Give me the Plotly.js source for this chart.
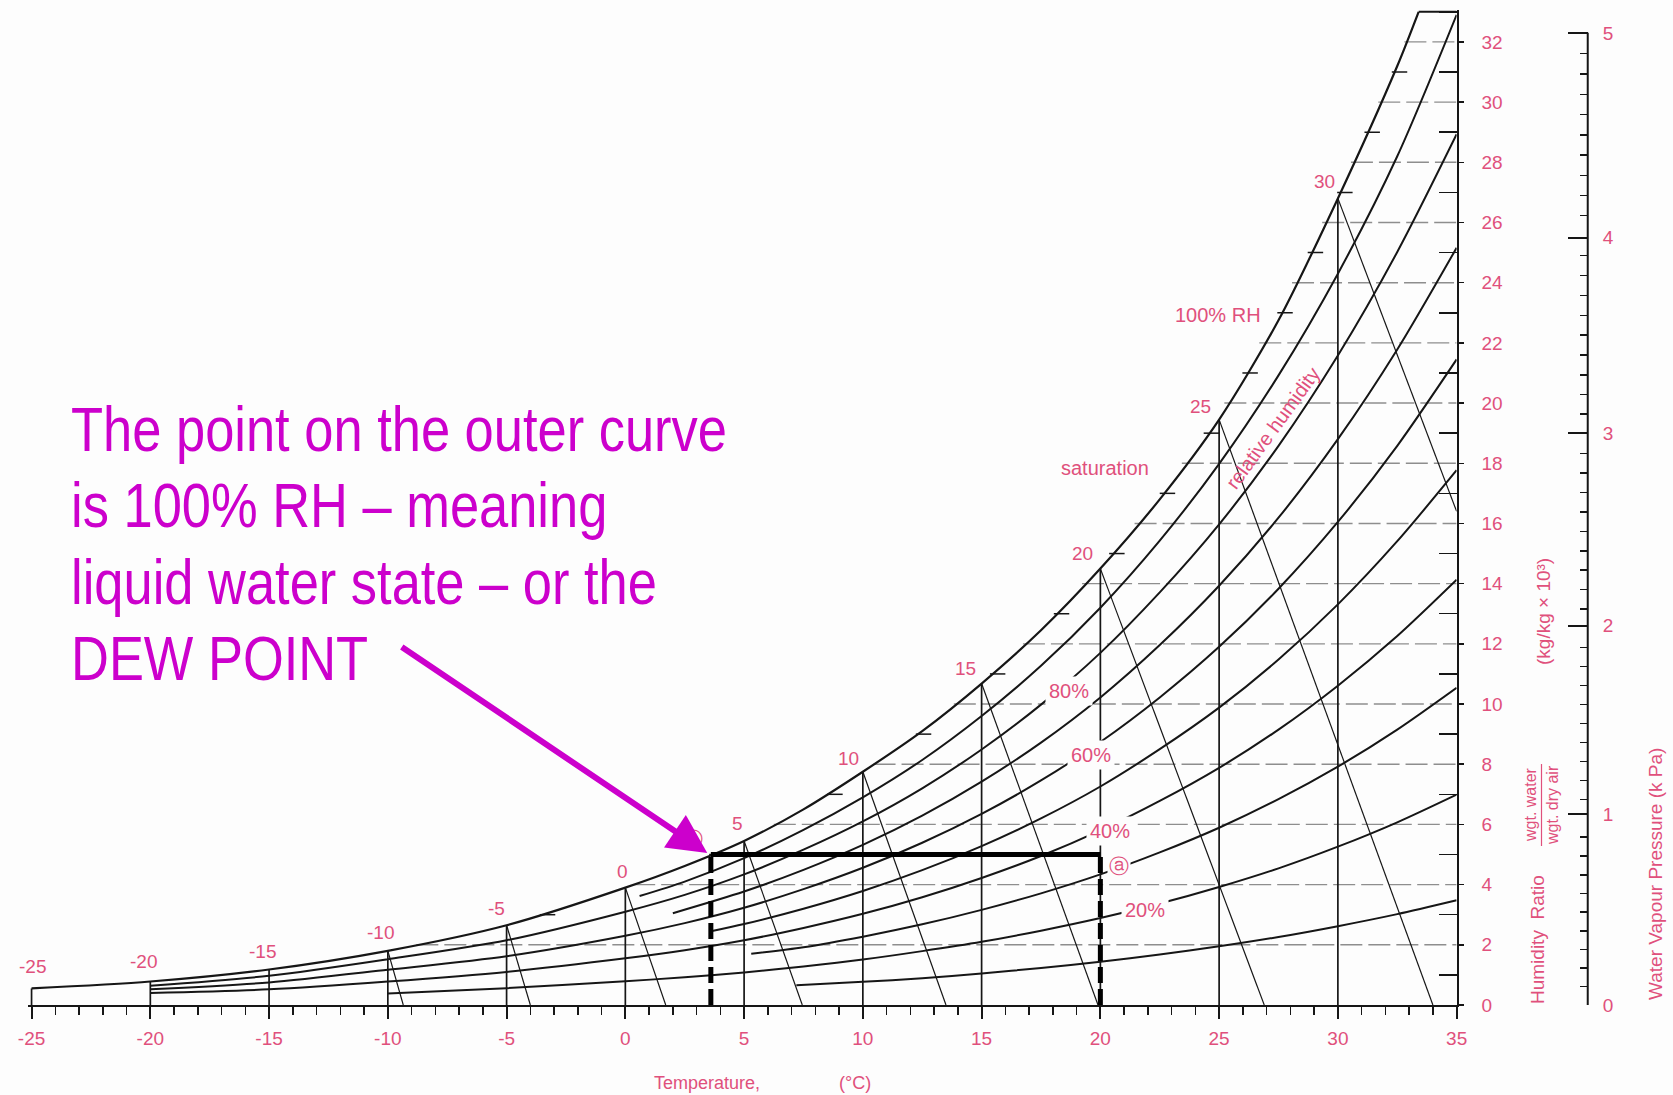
<!DOCTYPE html>
<html><head><meta charset="utf-8">
<script src="https://cdn.plot.ly/plotly-3.0.1.min.js"></script>
<style>html,body{margin:0;padding:0;background:#fdfdfd}#chart{width:1673px;height:1095px}</style>
</head><body><div id="chart"></div>
<script>
// ---------- data ----------
const tempTicks = [-25,-20,-15,-10,-5,0,5,10,15,20,25,30,35];
const ratioTicks = [0,2,4,6,8,10,12,14,16,18,20,22,24,26,28,30,32];
const vpLabels = ['0','1','2','3','4','5'];
const vpTickW = [0,6.35,12.6,19.0,25.5,32.3];

// saturation (100% RH) curve: temperature (°C) / humidity ratio (g/kg)
const satT = [-25,-20,-15,-10,-5,0,2.5,5,7.5,10,12.5,15,17.5,20,22.5,25,27.5,30,32.5,33.4];
const satW = [0.55,0.78,1.18,1.8,2.65,3.9,4.62,5.45,6.5,7.75,9.1,10.68,12.45,14.5,16.8,19.45,22.75,26.8,31.2,33.0];

// relative humidity curves
const rh90T = [0.6,2.5,5,7.5,10,12.5,15,17.5,20,22.5,25,27.5,30,32.5,35];
const rh90W = [3.62,4.1,4.88,5.82,6.9,8.14,9.6,11.27,13.2,15.43,17.98,20.92,24.3,28.2,32.9];
const rh80T = [-20,-15,-10,-5,0,2.5,5,7.5,10,12.5,15,17.5,20,22.5,25,27.5,30,32.5,35];
const rh80W = [0.64,0.97,1.52,2.15,3.1,3.66,4.34,5.16,6.1,7.2,8.49,9.98,11.7,13.71,15.97,18.58,21.58,25.02,28.93];
const rh70T = [2,5,7.5,10,12.5,15,17.5,20,22.5,25,27.5,30,32.5,35];
const rh70W = [3.05,3.77,4.49,5.32,6.29,7.42,8.72,10.22,11.96,13.93,16.19,18.8,21.78,25.16];
const rh60T = [-20,-15,-10,-5,0,2.5,5,7.5,10,12.5,15,17.5,20,22.5,25,27.5,30,32.5,35];
const rh60W = [0.52,0.75,1.17,1.62,2.3,2.72,3.23,3.85,4.56,5.39,6.35,7.46,8.74,10.22,11.9,13.83,16.05,18.58,21.45];
const rh50T = [3.6,5,7.5,10,12.5,15,17.5,20,22.5,25,27.5,30,32.5,35];
const rh50W = [2.45,2.69,3.2,3.79,4.48,5.28,6.2,7.26,8.5,9.88,11.48,13.31,15.41,17.77];
const rh40T = [-20,-15,-10,-5,0,2.5,5,7.5,10,12.5,15,17.5,20,22.5,25,27.5,30,32.5,35];
const rh40W = [0.4,0.52,0.78,1.1,1.55,1.82,2.15,2.56,3.03,3.58,4.22,4.95,5.8,6.78,7.88,9.15,10.61,12.26,14.13];
const rh30T = [5.3,7.5,10,12.5,15,17.5,20,22.5,25,27.5,30,32.5,35];
const rh30W = [1.7,1.92,2.27,2.68,3.16,3.71,4.34,5.07,5.89,6.84,7.92,9.15,10.54];
const rh20T = [-10,-5,0,2.5,5,7.5,10,12.5,15,17.5,20,22.5,25,27.5,30,32.5,35];
const rh20W = [0.38,0.56,0.79,0.92,1.08,1.28,1.51,1.79,2.1,2.47,2.89,3.37,3.92,4.54,5.26,6.07,6.99];
const rh10T = [7.2,10,12.5,15,17.5,20,22.5,25,27.5,30,32.5,35];
const rh10W = [0.66,0.77,0.89,1.05,1.23,1.44,1.68,1.95,2.26,2.62,3.02,3.48];

// wet-bulb (sloping) lines: start on saturation at wbStartT, end at (wbEndT, wbEndW)
const wbStartT = [-10,-5,0,5,10,15,20,25,30];
const wbEndT = [-9.35,-4.0,1.7,7.45,13.5,19.9,26.9,34.0,35];
const wbEndW = [0,0,0,0,0,0,0,0,16.4];

// dry-bulb verticals
const dryBulbT = [-25,-20,-15,-10,-5,0,5,10,15,20,25,30];

// horizontal humidity-ratio lines (even) and short ticks (odd), starting on the saturation curve
const gridW = [2,4,6,8,10,12,14,16,18,20,22,24,26,28,30,32];
const gridDewT = [-8.8,0.33,6.25,10.45,13.83,16.74,19.23,21.44,23.43,25.22,26.69,28.07,29.34,30.55,31.7,32.8];
const oddW = [3,5,7,9,11,13,15,17,19,21,23,25,27,29,31];
const oddDewT = [-3.6,3.53,8.5,12.23,15.35,18.04,20.37,22.5,24.35,25.98,27.45,28.73,29.97,31.12,32.27];

// highlighted example: state (a) at 20 °C and its dew point
const dewPointT = 3.6;
const stateT = 20;
const stateW = 5.0;

// ---------- styling ----------
const PINK = '#e0507c';
const MAG = '#cc00cc';
const INK = '#161616';
const BG = '#fdfdfd';
const SANS = 'Liberation Sans, Arial, sans-serif';
const T_MAX = tempTicks[tempTicks.length-1];
const W_TOP = satW[satW.length-1];
const satAt = T => satW[satT.indexOf(T)];

const traces = [];
{ const xs=[], ys=[];
  gridW.forEach((w,i)=>{ xs.push(gridDewT[i], T_MAX, null); ys.push(w,w,null); });
  traces.push({x:xs,y:ys,mode:'lines',line:{color:'#8e8e8e',width:1.4,dash:'22px,6px'},hoverinfo:'skip'}); }
{ const xs=[], ys=[];
  oddW.forEach((w,i)=>{ xs.push(oddDewT[i], oddDewT[i]+0.65, null); ys.push(w,w,null); });
  traces.push({x:xs,y:ys,mode:'lines',line:{color:INK,width:1.5},hoverinfo:'skip'}); }
{ const xs=[], ys=[];
  dryBulbT.forEach(t=>{ xs.push(t,t,null); ys.push(0,satAt(t),null); });
  traces.push({x:xs,y:ys,mode:'lines',line:{color:INK,width:1.7},hoverinfo:'skip'}); }
{ const xs=[], ys=[];
  wbStartT.forEach((t,i)=>{ xs.push(t,wbEndT[i],null); ys.push(satAt(t),wbEndW[i],null); });
  traces.push({x:xs,y:ys,mode:'lines',line:{color:INK,width:1.2},hoverinfo:'skip'}); }
[[rh90T,rh90W],[rh80T,rh80W],[rh70T,rh70W],[rh60T,rh60W],[rh50T,rh50W],
 [rh40T,rh40W],[rh30T,rh30W],[rh20T,rh20W],[rh10T,rh10W]].forEach(([t,w])=>{
  traces.push({x:t,y:w,mode:'lines',line:{color:INK,width:2,shape:'spline',smoothing:0.8},hoverinfo:'skip'});
});
traces.push({x:satT,y:satW,mode:'lines',line:{color:INK,width:2.2,shape:'spline',smoothing:0.8},hoverinfo:'skip'});
traces.push({x:[satT[satT.length-1],T_MAX],y:[W_TOP,W_TOP],mode:'lines',line:{color:INK,width:2},hoverinfo:'skip'});
traces.push({x:[dewPointT,stateT],y:[stateW,stateW],mode:'lines',line:{color:'#000',width:5},hoverinfo:'skip'});
traces.push({x:[dewPointT,dewPointT,null,stateT,stateT],y:[0,stateW,null,0,stateW],mode:'lines',
  line:{color:'#000',width:5,dash:'16px,6px'},hoverinfo:'skip'});
traces.push({x:[T_MAX],y:[0],yaxis:'y2',mode:'markers',marker:{opacity:0},hoverinfo:'skip'});

const vpMinorW = [];
for (let k=1;k<50;k++){ if(k%10===0) continue; const p=k/10; vpMinorW.push(622*p/(101.325-p)); }

// ---------- annotations ----------
const ann = [];
const satLabelDx = [1,-7,-7,-7,-10,-3,-7,-14,-16,-18,-19,-13];
const satLabelDy = [22,20,18,18,17,16,17,13,15,15,13,17];
dryBulbT.forEach((t,i)=>ann.push({x:t,y:satAt(t),text:String(t),showarrow:false,xshift:satLabelDx[i],yshift:satLabelDy[i],
  font:{family:SANS,size:19,color:PINK}}));
const lab = (x,y,text,extra)=>Object.assign({x,y,text,showarrow:false,font:{family:SANS,size:20,color:PINK}},extra||{});
ann.push(lab(18.68,10.44,'80%',{bgcolor:BG,borderpad:3}));
ann.push(lab(19.62,8.32,'60%',{bgcolor:BG,borderpad:3}));
ann.push(lab(20.4,5.78,'40%',{bgcolor:BG,borderpad:3}));
ann.push(lab(21.9,3.16,'20%',{bgcolor:BG,borderpad:3}));
ann.push(lab(20.78,4.62,'ⓐ',{bgcolor:BG,borderpad:1}));
ann.push(lab(2.85,5.5,'ⓑ'));
ann.push(lab(24.95,22.92,'100% RH'));
ann.push(lab(20.18,17.85,'saturation'));
ann.push(lab(27.27,19.16,'relative humidity',{textangle:-54}));
const px = v => (v-28)/1572, py = v => (1005-v)/995;
const pap = (x,y,text,size,extra)=>Object.assign({xref:'paper',yref:'paper',x:px(x),y:py(y),xanchor:'center',yanchor:'middle',
  text,showarrow:false,font:{family:SANS,size,color:PINK}},extra||{});
// magenta explanation
const lines = ['The point on the outer curve','is 100% RH – meaning','liquid water state – or the','DEW POINT'];
const lineY = [429,505.5,582,658];
lines.forEach((s,i)=>ann.push({xref:'paper',yref:'paper',x:px(69),y:py(lineY[i]),xanchor:'left',yanchor:'middle',
  text:s,showarrow:false,font:{family:SANS,size:63,color:MAG}}));
ann.push({x:3.45,y:5.05,text:'',showarrow:true,arrowhead:2,arrowsize:1.3,arrowwidth:6,arrowcolor:MAG,ax:-307,ay:-207,standoff:0});
// axis titles
ann.push(pap(1537,940,'Humidity  Ratio',19,{textangle:-90}));
ann.push(pap(1530,805,'wgt. water',16,{textangle:-90}));
ann.push(pap(1552,805,'wgt. dry air',16,{textangle:-90}));
ann.push(pap(1543,612,'(kg/kg × 10³)',19,{textangle:-90}));
ann.push(pap(1655,874,'Water Vapour Pressure (k Pa)',19,{textangle:-90}));
ann.push(pap(707,1083,'Temperature,',18));
ann.push(pap(855,1083,'(°C)',18));

const shapes = [
  {type:'line',xref:'paper',yref:'y',x0:0.9922,x1:0.9922,y0:vpTickW[0],y1:vpTickW[vpTickW.length-1],line:{color:INK,width:2}},
  {type:'line',xref:'paper',yref:'y',x0:px(1541.5),x1:px(1541.5),y0:(1005-846)/30.1,y1:(1005-764)/30.1,line:{color:PINK,width:1.2}}
];

const layout = {
  width:1673,height:1095,
  margin:{l:28,r:73,t:10,b:90,pad:0},
  paper_bgcolor:BG,plot_bgcolor:BG,
  showlegend:false,
  xaxis:{domain:[0,0.9088],range:[-25.15,35],showline:true,linecolor:INK,linewidth:2,
    tickmode:'array',tickvals:tempTicks,ticktext:tempTicks.map(String),ticks:'outside',ticklen:12,tickwidth:2,tickcolor:INK,
    minor:{tickmode:'linear',tick0:-25,dtick:1,ticks:'outside',ticklen:8,tickwidth:1.5,tickcolor:INK,showgrid:false},
    tickfont:{family:SANS,size:19,color:PINK},showgrid:false,zeroline:false,ticklabelstandoff:3,fixedrange:true},
  yaxis:{domain:[0,1],range:[0,33.06],side:'right',anchor:'x',showline:true,linecolor:INK,linewidth:2,
    tickmode:'array',tickvals:ratioTicks,ticktext:ratioTicks.map(String),ticks:'outside',ticklen:5,tickwidth:1.5,tickcolor:INK,
    minor:{tickmode:'linear',tick0:1,dtick:2,ticks:'inside',ticklen:18,tickwidth:1.5,tickcolor:INK,showgrid:false},
    tickfont:{family:SANS,size:19,color:PINK},showgrid:false,zeroline:false,ticklabelstandoff:14,fixedrange:true},
  yaxis2:{overlaying:'y',anchor:'free',position:0.9922,side:'right',range:[0,33.06],showline:false,
    tickmode:'array',tickvals:vpTickW,ticktext:vpLabels,ticks:'inside',ticklen:20,tickwidth:2,tickcolor:INK,
    minor:{tickmode:'array',tickvals:vpMinorW,ticks:'inside',ticklen:8,tickwidth:1.5,tickcolor:INK,showgrid:false},
    tickfont:{family:SANS,size:19,color:PINK},showgrid:false,zeroline:false,ticklabelstandoff:14,fixedrange:true},
  annotations:ann,
  shapes:shapes
};
Plotly.newPlot('chart',traces,layout,{staticPlot:true,displayModeBar:false}).then(gd=>{
  // condense the magenta explanation horizontally (narrow sans look), keeping the left edge fixed
  const texts = Array.from(gd.querySelectorAll('text.annotation-text')).filter(t=>lines.includes(t.textContent));
  const first = texts.find(t=>t.textContent===lines[0]);
  if(!first) return;
  const s = 656 / first.getBBox().width;
  texts.forEach(t=>{
    const b = t.getBBox();
    t.setAttribute('transform',`translate(${b.x},0) scale(${s},1) translate(${-b.x},0)`);
  });
});
</script></body></html>
